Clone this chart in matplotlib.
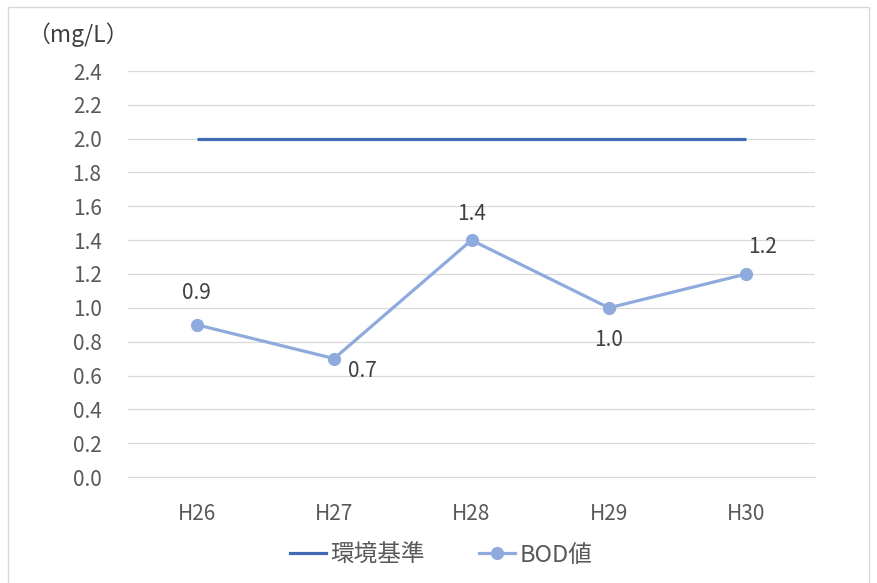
import matplotlib
matplotlib.use("Agg")
import matplotlib.pyplot as plt
from matplotlib.patches import Rectangle
from matplotlib.lines import Line2D

plt.rcParams['font.family'] = ['Noto Sans CJK JP', 'DejaVu Sans']

categories = ["H26", "H27", "H28", "H29", "H30"]
standard = [2.0, 2.0, 2.0, 2.0, 2.0]
bod = [0.9, 0.7, 1.4, 1.0, 1.2]
yticks = [0.0, 0.2, 0.4, 0.6, 0.8, 1.0, 1.2, 1.4, 1.6, 1.8, 2.0, 2.2, 2.4]

W, H = 877, 583
fig = plt.figure(figsize=(W / 100, H / 100), dpi=100)
fig.patches.append(Rectangle((8 / W, -0.01), (869 - 8) / W, 1 - 7 / H + 0.01,
                             transform=fig.transFigure, fill=False,
                             edgecolor='#d9d9d9', linewidth=1.0))

ax = fig.add_axes([128 / W, 1 - 477 / H, (815 - 128) / W, (477 - 71) / H])
x = list(range(len(categories)))

c_std = '#4169B4'
c_bod = '#8FAADC'
ax.plot(x, standard, color=c_std, linewidth=2.3, solid_capstyle='butt', zorder=3)
ax.plot(x, bod, color=c_bod, linewidth=2.3, marker='o', markersize=8.5, zorder=3)

ax.set_xlim(-0.5, len(categories) - 0.5)
ax.set_ylim(0, 2.4)
ax.set_yticks(yticks)
ax.set_yticklabels([f"{v:.1f}" for v in yticks])
ax.set_xticks(x)
ax.set_xticklabels(categories)
ax.tick_params(axis='both', length=0, labelsize=15, labelcolor='#595959')
ax.tick_params(axis='y', pad=19)
ax.tick_params(axis='x', pad=19)
ax.grid(axis='y', color='#d9d9d9', linewidth=0.9)
ax.set_axisbelow(True)
for s in ['top', 'right', 'left']:
    ax.spines[s].set_visible(False)
ax.spines['bottom'].set_color('#d9d9d9')

# data labels
offsets = [(0, 23, 'center'), (10, -9, 'left'), (0, 19, 'center'), (0, -23, 'center'), (12, 19.5, 'center')]
for xi, v, (dx, dy, ha) in zip(x, bod, offsets):
    ax.annotate(f"{v:.1f}", (xi, v), xytext=(dx, dy), textcoords='offset points',
                ha=ha, va='center', fontsize=15, color='#404040')

fig.text(27 / W, 1 - 35 / H, "（mg/L）", fontsize=16.5, color='#404040', va='center', ha='left')

handles = [Line2D([], [], color=c_std, linewidth=2.3),
           Line2D([], [], color=c_bod, linewidth=2.3, marker='o', markersize=8.5)]
fig.legend(handles, ["環境基準", "BOD値"], loc='center', bbox_to_anchor=(0.503, 1 - 555 / H),
           ncol=2, frameon=False, fontsize=17, labelcolor='#595959',
           handlelength=1.5, columnspacing=2.3, handletextpad=0.2)

fig.savefig("out.png", dpi=100)
